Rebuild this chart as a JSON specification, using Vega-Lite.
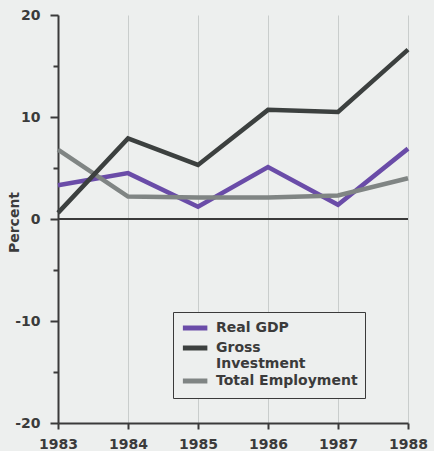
{
  "$schema": "https://vega.github.io/schema/vega-lite/v6.json",
  "width": 350,
  "height": 408,
  "autosize": {"type": "none"},
  "padding": {"left": 58, "top": 15, "right": 26, "bottom": 28},
  "background": "#edefee",
  "config": {
    "view": {"stroke": null},
    "font": "DejaVu Sans",
    "axis": {
      "domainColor": "#3a3a3a",
      "domainWidth": 2,
      "tickColor": "#3a3a3a",
      "tickWidth": 2,
      "labelColor": "#3b3b3b",
      "labelFont": "DejaVu Sans",
      "labelFontWeight": "bold",
      "titleColor": "#3b3b3b",
      "titleFont": "DejaVu Sans",
      "titleFontWeight": "bold"
    }
  },
  "data": {
    "values": [
      {"year": 1983, "series": "Real GDP", "value": 3.3},
      {"year": 1984, "series": "Real GDP", "value": 4.5},
      {"year": 1985, "series": "Real GDP", "value": 1.2},
      {"year": 1986, "series": "Real GDP", "value": 5.1},
      {"year": 1987, "series": "Real GDP", "value": 1.4},
      {"year": 1988, "series": "Real GDP", "value": 6.9},
      {"year": 1983, "series": "Gross Investment", "value": 0.6},
      {"year": 1984, "series": "Gross Investment", "value": 7.9},
      {"year": 1985, "series": "Gross Investment", "value": 5.3},
      {"year": 1986, "series": "Gross Investment", "value": 10.7},
      {"year": 1987, "series": "Gross Investment", "value": 10.5},
      {"year": 1988, "series": "Gross Investment", "value": 16.6},
      {"year": 1983, "series": "Total Employment", "value": 6.8},
      {"year": 1984, "series": "Total Employment", "value": 2.2},
      {"year": 1985, "series": "Total Employment", "value": 2.1},
      {"year": 1986, "series": "Total Employment", "value": 2.1},
      {"year": 1987, "series": "Total Employment", "value": 2.3},
      {"year": 1988, "series": "Total Employment", "value": 4.0}
    ]
  },
  "layer": [
    {
      "transform": [{"filter": "datum.series == 'Real GDP'"}],
      "mark": {"type": "line", "strokeWidth": 4.5, "strokeJoin": "miter"},
      "encoding": {
        "x": {
          "field": "year", "type": "quantitative",
          "scale": {"domain": [1983, 1988], "nice": false, "zero": false},
          "axis": {
            "title": null,
            "values": [1983, 1983.5, 1984, 1984.5, 1985, 1985.5, 1986, 1986.5, 1987, 1987.5, 1988],
            "format": "d",
            "labelExpr": "datum.value % 1 == 0 ? datum.label : ''",
            "labelFontSize": 14,
            "labelPadding": 8,
            "labelFlush": false,
            "labelOverlap": false,
            "tickSize": {"condition": {"test": "datum.value % 1 != 0", "value": 3}, "value": 6},
            "grid": true,
            "gridColor": "#c9cdcc",
            "gridWidth": 1,
            "gridOpacity": {"condition": {"test": "datum.value % 1 != 0", "value": 0}, "value": 1}
          }
        },
        "y": {
          "field": "value", "type": "quantitative",
          "scale": {"domain": [-20, 20], "nice": false},
          "axis": {
            "title": "Percent",
            "titleFontSize": 14,
            "titleX": -40,
            "titleY": 207,
            "titleBaseline": "alphabetic",
            "values": [-20, -15, -10, -5, 0, 5, 10, 15, 20],
            "labelExpr": "datum.value % 10 == 0 ? replace(datum.label, '\u2212', '-') : ''",
            "labelFontSize": 14,
            "labelPadding": 10,
            "labelFlush": false,
            "labelOverlap": false,
            "tickSize": {"condition": {"test": "datum.value % 10 != 0", "value": 5}, "value": 8},
            "grid": false
          }
        },
        "color": {
          "field": "series", "type": "nominal",
          "scale": {
            "domain": ["Real GDP", "Gross Investment", "Total Employment"],
            "range": ["#6a4ca8", "#3c403f", "#808584"]
          },
          "legend": {
            "orient": "none",
            "legendX": 115,
            "legendY": 297,
            "title": null,
            "strokeColor": "#3a3a3a",
            "fillColor": "#edefee",
            "padding": 7,
            "symbolType": "M-1,0H3",
            "symbolStrokeWidth": 5,
            "symbolSize": 150,
            "labelFont": "DejaVu Sans",
            "labelFontSize": 14,
            "labelFontWeight": "bold",
            "labelColor": "#3b3b3b",
            "labelOffset": 18,
            "labelLimit": 300,
            "rowPadding": 0,
            "labelExpr": "datum.label == 'Gross Investment' ? ['Gross', 'Investment'] : datum.label"
          }
        }
      }
    },
    {
      "transform": [{"filter": "datum.series == 'Total Employment'"}],
      "mark": {"type": "line", "strokeWidth": 4.5, "strokeJoin": "miter"},
      "encoding": {
        "x": {"field": "year", "type": "quantitative"},
        "y": {"field": "value", "type": "quantitative"},
        "color": {"field": "series", "type": "nominal"}
      }
    },
    {
      "transform": [{"filter": "datum.series == 'Gross Investment'"}],
      "mark": {"type": "line", "strokeWidth": 4.5, "strokeJoin": "miter"},
      "encoding": {
        "x": {"field": "year", "type": "quantitative"},
        "y": {"field": "value", "type": "quantitative"},
        "color": {"field": "series", "type": "nominal"}
      }
    },
    {
      "mark": {"type": "rule", "color": "#3a3a3a", "strokeWidth": 2},
      "encoding": {"y": {"datum": 0}}
    }
  ]
}
